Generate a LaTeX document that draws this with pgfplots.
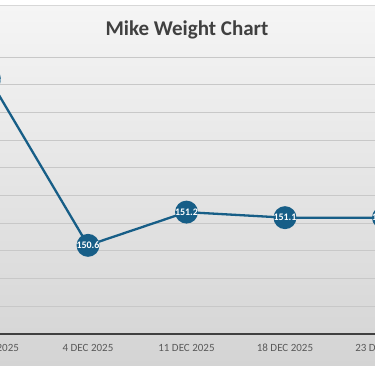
\documentclass[border=0pt]{standalone}
\usepackage{pgfplots}
\pgfplotsset{compat=1.18}
\usepackage{fontspec}
\setmainfont{Carlito}
\definecolor{ser}{HTML}{175E87}
\definecolor{txt}{HTML}{595959}
\definecolor{ttl}{HTML}{404040}
\definecolor{bgtop}{HTML}{F5F5F5}
\definecolor{bgbot}{HTML}{D4D4D4}
\definecolor{brd}{HTML}{D7D7D7}
\definecolor{axl}{HTML}{404040}
\definecolor{grd}{HTML}{C8C8C8}
\begin{document}
\begin{tikzpicture}[x=1pt,y=1pt]
\clip (0,0) rectangle (375,366);
\fill[white] (0,0) rectangle (375,366);
\shade[top color=bgtop, bottom color=bgbot] (0,0) rectangle (375,360.5);
\draw[line width=0.8pt, brd] (0,360.5) -- (375,360.5);
\node[font=\bfseries\fontsize{21}{24}\selectfont, text=ttl] at (187,336.5) {Mike Weight Chart};
\begin{axis}[
  at={(-59.75pt,32pt)}, anchor=south west,
  scale only axis, width=492.5pt, height=277pt,
  xmin=-0.5, xmax=4.5, ymin=149, ymax=154,
  axis x line*=bottom, axis y line*=left,
  y axis line style={draw=none},
  x axis line style={line width=1.3pt, axl, -},
  xtick={0,1,2,3,4},
  xticklabels={27 NOV 2025,4 DEC 2025,11 DEC 2025,18 DEC 2025,23 DEC 2025},
  xticklabel style={font=\fontsize{11}{13}\selectfont, text=txt, text height=7.5pt, text depth=0pt, anchor=north, yshift=-6pt},
  major tick length=0pt,
  ytick={149.5,150,...,154},
  yticklabels={},
  ymajorgrids, grid style={line width=0.8pt, grd},
  clip=false,
  nodes near coords,
  point meta=explicit symbolic,
  every node near coord/.append style={anchor=center, font=\bfseries\fontsize{10}{11}\selectfont, text=white},
]
\addplot[color=ser, line width=2.3pt, mark=*, mark size=10.3pt, mark options={fill=ser, draw=ser}]
  coordinates {(0,153.6)[153.6] (1,150.6)[150.6] (2,151.2)[151.2] (3,151.1)[151.1] (4,151.1)[151.1]};
\end{axis}
\end{tikzpicture}
\end{document}
